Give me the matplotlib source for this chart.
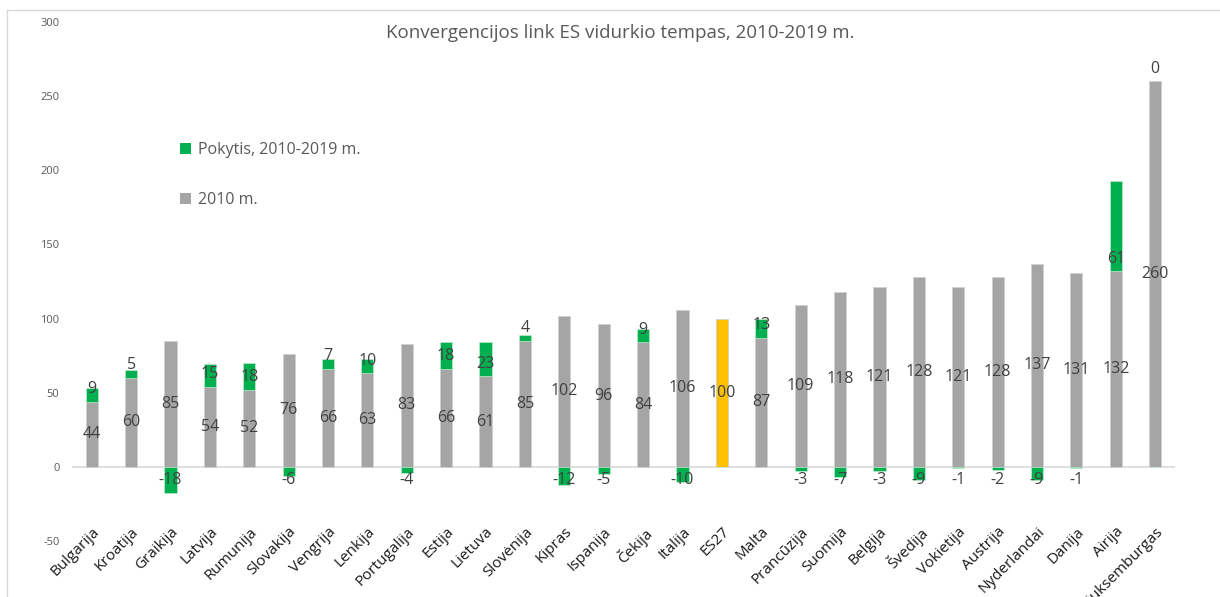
import numpy as np
import matplotlib
matplotlib.use('Agg')
import matplotlib.pyplot as plt
from matplotlib.lines import Line2D
from matplotlib.patches import Patch

plt.rcParams['font.family'] = ['Open Sans', 'DejaVu Sans']

# data
countries = ['Bulgarija', 'Kroatija', 'Graikija', 'Latvija', 'Rumunija', 'Slovakija',
             'Vengrija', 'Lenkija', 'Portugalija', 'Estija', 'Lietuva', 'Slovėnija',
             'Kipras', 'Ispanija', 'Čekija', 'Italija', 'ES27', 'Malta', 'Prancūzija',
             'Suomija', 'Belgija', 'Švedija', 'Vokietija', 'Austrija', 'Nyderlandai',
             'Danija', 'Airija', 'Liuksemburgas']
level_2010 = [44, 60, 85, 54, 52, 76, 66, 63, 83, 66, 61, 85, 102, 96, 84, 106, 100,
              87, 109, 118, 121, 128, 121, 128, 137, 131, 132, 260]
change = [9, 5, -18, 15, 18, -6, 7, 10, -4, 18, 23, 4, -12, -5, 9, -10, None, 13,
          -3, -7, -3, -9, -1, -2, -9, -1, 61, 0]
yticks = [-50, 0, 50, 100, 150, 200, 250, 300]

title = 'Konvergencijos link ES vidurkio tempas, 2010-2019 m.'
label_change = 'Pokytis, 2010-2019 m.'
label_2010 = '2010 m.'

GRAY = '#A5A5A5'
GREEN = '#00B050'
GOLD = '#FFC000'
TXT = '#404040'

x = np.arange(len(countries))
base = np.array(level_2010, dtype=float)
chg = np.array([0 if c is None else c for c in change], dtype=float)

fig = plt.figure(figsize=(12.2, 5.97), dpi=100)
ax = fig.add_axes([0.059, 0.094, 0.904, 0.869])

colors = [GOLD if c == 'ES27' else GRAY for c in countries]
width = 0.31
ax.bar(x, base, width, color=colors, edgecolor='#d0d0d0', linewidth=0.6, zorder=2)

# positive change stacked on top of 2010, negative drawn down from zero
bottoms = np.where(chg > 0, base, 0)
ax.bar(x, chg, width, bottom=bottoms, color=GREEN, edgecolor='#d0f0d8',
       linewidth=0.4, zorder=3)

ax.axhline(0, color='#d9d9d9', linewidth=1.2, zorder=1)

for i in range(len(countries)):
    ax.text(x[i], base[i] / 2, str(level_2010[i]), ha='center', va='center',
            fontsize=11.5, color=TXT, zorder=5)
    c = change[i]
    if c is None:
        continue
    if c >= 0:
        y = base[i] + 8.5
    else:
        y = -9
    ax.text(x[i], y, str(c), ha='center', va='center', fontsize=11.5,
            color=TXT, zorder=5)

ax.set_xlim(-0.5, len(countries) - 0.5)
ax.set_ylim(-50, 300)
ax.set_yticks(yticks)
ax.set_yticklabels([str(t) for t in yticks], fontsize=8, color='#595959')
ax.tick_params(axis='y', length=0, pad=9)

ax.set_xticks(x)
ax.set_xticklabels(countries, rotation=45, ha='right', rotation_mode='anchor',
                   fontsize=11, color='#1a1a1a')
ax.tick_params(axis='x', length=0, pad=-12)

for s in ax.spines.values():
    s.set_visible(False)

fig.text(0.508, 0.945, title, ha='center', va='center', fontsize=13.5, color='#595959')

handles = [Patch(facecolor=GREEN, edgecolor='none'), Patch(facecolor=GRAY, edgecolor='none')]
leg = ax.legend(handles, [label_change, label_2010], loc='upper left',
                bbox_to_anchor=(0.085, 0.796), frameon=False, fontsize=11.5,
                labelcolor='#595959', handlelength=0.7, handleheight=0.7,
                handletextpad=0.4, labelspacing=2.1)

# light frame of the chart area
fig.add_artist(Line2D([7 / 1220, 7 / 1220], [0, 1 - 10 / 597], color='#d9d9d9', lw=1))
fig.add_artist(Line2D([7 / 1220, 1], [1 - 10 / 597, 1 - 10 / 597], color='#d9d9d9', lw=1))

fig.savefig('out.png', dpi=100)
